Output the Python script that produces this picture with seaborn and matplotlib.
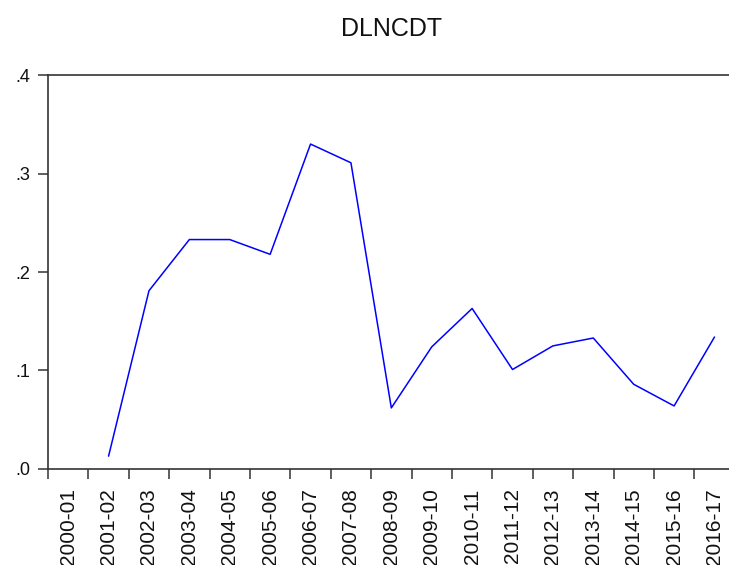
import numpy as np
import pandas as pd
import seaborn as sns
import matplotlib.pyplot as plt

# Series
periods = ['2000-01', '2001-02', '2002-03', '2003-04', '2004-05', '2005-06',
           '2006-07', '2007-08', '2008-09', '2009-10', '2010-11', '2011-12',
           '2012-13', '2013-14', '2014-15', '2015-16', '2016-17']
dlncdt = [np.nan, 0.013, 0.181, 0.233, 0.233, 0.218, 0.330, 0.311, 0.062,
          0.124, 0.163, 0.101, 0.125, 0.133, 0.086, 0.064, 0.134]
yticks = [0.0, 0.1, 0.2, 0.3, 0.4]
ytick_labels = ['.0', '.1', '.2', '.3', '.4']

df = pd.DataFrame({'period': periods, 'DLNCDT': dlncdt})
df['pos'] = np.arange(len(df))
df = df.dropna()

sns.set_style('ticks')
plt.rcParams['font.family'] = ['Liberation Sans', 'DejaVu Sans']

fig = plt.figure(figsize=(7.29, 5.65), dpi=100)
ax = fig.add_axes([0.0658, 0.170, 0.942, 0.697])

sns.lineplot(data=df, x='pos', y='DLNCDT', color='#0000ff', linewidth=1.1, ax=ax)

n = len(periods)
ax.set_xlim(-0.5, n - 0.5)
ax.set_ylim(0, 0.4)

# boundaries get tick marks, centres carry the labels
ax.set_xticks(np.arange(n + 1) - 0.5)
ax.set_xticklabels([])
ax.set_xticks(np.arange(n), minor=True)
ax.set_xticklabels(periods, minor=True, rotation=90, fontsize=15, va='top', color='#111111')
ax.tick_params(axis='x', which='major', length=7, width=1.1, color='#333333', direction='out')
ax.tick_params(axis='x', which='minor', length=0, pad=14)

ax.set_yticks(yticks)
ax.set_yticklabels(ytick_labels, fontsize=13, color='#111111')
ax.tick_params(axis='y', length=7, width=1.1, color='#333333', pad=6)

for side in ['left', 'top', 'bottom']:
    ax.spines[side].set_color('#333333')
    ax.spines[side].set_linewidth(1.2)
ax.spines['right'].set_visible(False)

ax.set_xlabel('')
ax.set_ylabel('')
ax.set_title('DLNCDT', fontsize=18, pad=28, color='#111111')

fig.savefig('out.png', dpi=100)
